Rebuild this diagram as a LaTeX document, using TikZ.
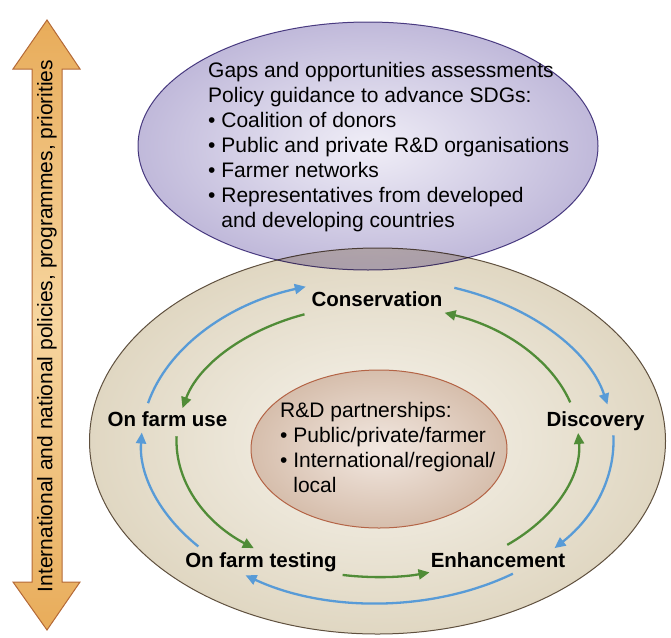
\documentclass[tikz,border=0pt]{standalone}
\usepackage{fontspec}
\setmainfont{Liberation Sans}
\usetikzlibrary{arrows.meta,shapes.geometric}
\definecolor{cblue}{RGB}{88,155,215}
\definecolor{cgreen}{RGB}{80,140,55}
\definecolor{tanin}{RGB}{247,244,237}
\definecolor{tanout}{RGB}{224,215,194}
\definecolor{tanline}{RGB}{95,80,62}
\definecolor{purin}{RGB}{240,238,247}
\definecolor{purout}{RGB}{192,185,218}
\definecolor{purline}{RGB}{85,70,140}
\definecolor{rosin}{RGB}{242,232,225}
\definecolor{rosout}{RGB}{214,190,172}
\definecolor{rosline}{RGB}{180,100,70}
\definecolor{orlight}{RGB}{247,214,160}
\definecolor{ordark}{RGB}{232,172,90}
\definecolor{orline}{RGB}{180,105,55}
\begin{document}
\begin{tikzpicture}[x=1pt,y=-1pt,
  blob/.style={ellipse,inner sep=0pt,line width=1pt,shading=radial},
  lbl/.style={anchor=base,font=\fontsize{20.5}{25}\selectfont\bfseries},
  txt/.style={align=left,inner sep=0pt,anchor=north west,font=\fontsize{21}{25}\selectfont},
  bluearc/.style={draw=cblue,line width=2.3pt,-{Triangle[length=11pt,width=10pt]}},
  greenarc/.style={draw=cgreen,line width=2.3pt,-{Triangle[length=11pt,width=10pt]}}]
\useasboundingbox (0,0) rectangle (671,637);
% ellipses
\node[blob,draw=tanline,inner color=tanin,outer color=tanout,minimum width=576pt,minimum height=386pt] (outer) at (377.5,441) {};
\node[blob,draw=rosline,inner color=rosin,outer color=rosout,minimum width=256pt,minimum height=158pt] (inner) at (379,449) {};
\begin{scope}[blend mode=multiply]
\node[blob,draw=purline,inner color=purin,outer color=purout,minimum width=460pt,minimum height=248pt] (top) at (368,146) {};
\end{scope}
% vertical double arrow
\draw[line width=1pt,draw=orline,top color=ordark,bottom color=ordark,middle color=orlight]
  (47,20) -- (80,69) -- (62,69) -- (62,582) -- (80,582) -- (47,630) -- (13,582) -- (32,582) -- (32,69) -- (13,69) -- cycle;
\node[rotate=90,font=\fontsize{21}{25}\selectfont] (policy) at (47,326) {International and national policies, programmes, priorities};
% texts
\node[txt] (gaps) at (208,62) {Gaps and opportunities assessments\\Policy guidance to advance SDGs:\\• Coalition of donors\\• Public and private R\&D organisations\\• Farmer networks\\• Representatives from developed\\\phantom{• }and developing countries};
\node[txt] (rd) at (280,402) {R\&D partnerships:\\• Public/private/farmer\\• International/regional/\\\phantom{• }local};
% labels
\node[lbl] (cons) at (377,306) {Conservation};
\node[lbl] (use) at (167.5,426) {On farm use};
\node[lbl] (disc) at (595.5,426) {Discovery};
\node[lbl] (test) at (261,567) {On farm testing};
\node[lbl] (enh) at (498,567) {Enhancement};
% arc end points
\coordinate (C) at (377.5,441);
\path (C) ++(193.5:236 and 162) coordinate (b1);
\path (C) ++(289:236 and 162) coordinate (b2);
\path (C) ++(358:236 and 162) coordinate (b3);
\path (C) ++(55:236 and 162) coordinate (b4);
\path (C) ++(139.4:236 and 162) coordinate (b5);
\path (C) ++(248.7:201 and 136) coordinate (g1);
\path (C) ++(182:201 and 136) coordinate (g2);
\path (C) ++(100:201 and 136) coordinate (g3);
\path (C) ++(49.8:201 and 136) coordinate (g4);
\path (C) ++(-16.5:201 and 136) coordinate (g5);
% blue clockwise cycle
\draw[bluearc] (b1) arc[start angle=193.5,end angle=252.3,x radius=236,y radius=162];
\draw[bluearc] (b2) arc[start angle=289,end angle=347,x radius=236,y radius=162];
\draw[bluearc] (b3) arc[start angle=358,end angle=401.4,x radius=236,y radius=162];
\draw[bluearc] (b4) arc[start angle=55,end angle=124,x radius=236,y radius=162];
\draw[bluearc] (b5) arc[start angle=139.4,end angle=183,x radius=236,y radius=162];
% green counter-clockwise cycle
\draw[greenarc] (g1) arc[start angle=248.7,end angle=194,x radius=201,y radius=136];
\draw[greenarc] (g2) arc[start angle=182,end angle=128,x radius=201,y radius=136];
\draw[greenarc] (g3) arc[start angle=100,end angle=75,x radius=201,y radius=136];
\draw[greenarc] (g4) arc[start angle=49.8,end angle=-3.4,x radius=201,y radius=136];
\draw[greenarc] (g5) arc[start angle=-16.5,end angle=-70.5,x radius=201,y radius=136];
\end{tikzpicture}
\end{document}
